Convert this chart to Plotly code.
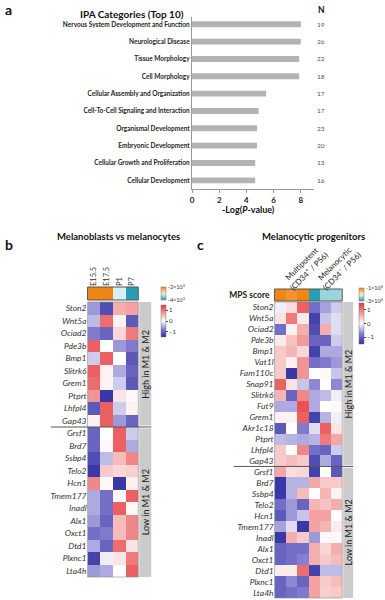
import plotly.graph_objects as go

W, H = 385, 600
def px(x): return x / W
def py(y): return 1 - y / H

FONT = "Lato"

# ---------------- Panel a data ----------------
categories = ["Nervous System Development and Function", "Neurological Disease",
              "Tissue Morphology", "Cell Morphology", "Cellular Assembly and Organization",
              "Cell-To-Cell Signaling and Interaction", "Organismal Development",
              "Embryonic Development", "Cellular Growth and Proliferation", "Cellular Development"]
neglogp = [8.0, 8.0, 7.88, 7.88, 5.45, 4.9, 4.78, 4.78, 4.65, 4.65]
n_genes = [19, 26, 22, 18, 17, 17, 23, 20, 13, 16]
a_ticks = [0, 2, 4, 6, 8]

# ---------------- Panel b data ----------------
b_cols = ["E15.5", "E17.5", "P1", "P7"]
b_mps = [-2000, -2000, -3100, -4000]
b_genes = ["Ston2", "Wnt5a", "Ociad2", "Pde3b", "Bmp1", "Slitrk6", "Grem1", "Ptprt", "Lhfpl4", "Gap43",
           "Grsf1", "Brd7", "Ssbp4", "Telo2", "Hcn1", "Tmem177", "Inadl", "Alx1", "Oxct1", "Dtd1",
           "Plxnc1", "Lta4h"]
b_values = [
    [-0.6, -1.2, 0.6, 0.7],
    [-0.4, 1.1, 0.1, -1.1],
    [-0.8, -1.0, 0.3, 1.0],
    [1.2, 0.0, -0.6, -0.8],
    [-0.3, 1.2, 0.0, -1.1],
    [1.2, 0.1, -0.5, -1.0],
    [1.1, 0.1, -0.3, -1.1],
    [0.8, -1.4, 0.2, 0.05],
    [-1.1, 1.2, -0.3, 0.1],
    [0.1, 1.2, -0.6, -1.0],
    [-1.0, 0.0, 1.2, -0.3],
    [-1.0, 0.05, 1.2, -0.5],
    [-1.2, -0.4, 0.5, 0.9],
    [-1.4, 0.4, 0.3, 0.35],
    [0.9, 0.05, -1.4, 0.1],
    [-0.5, -0.9, 0.05, 1.2],
    [-0.5, -0.9, 1.2, 0.05],
    [-0.6, -1.0, 0.5, 0.9],
    [-0.9, -0.8, 0.5, 0.9],
    [-0.5, -1.0, 1.1, 0.2],
    [-1.3, -0.1, 0.2, 1.0],
    [-0.6, -0.5, 0.0, 1.2],
]
b_high_n = 10

# ---------------- Panel c data ----------------
c_groups = ["Multipotent<br>(CD34<sup>+</sup> / P56)", "Melanocytic<br>(CD34<sup>−</sup> / P56)"]
c_samples = [0, 1, 2, 3, 4, 5]
c_mps = [-1.0e4, -1.15e4, -1.0e4, -3.0e4, -2.4e4, -2.4e4]
c_genes = ["Ston2", "Wnt5a", "Ociad2", "Pde3b", "Bmp1", "Vat1l", "Fam110c", "Snap91", "Slitrk6", "Fut9",
           "Grem1", "Akr1c18", "Ptprt", "Lhfpl4", "Gap43", "Grsf1", "Brd7", "Ssbp4", "Telo2", "Hcn1",
           "Tmem177", "Inadl", "Alx1", "Oxct1", "Dtd1", "Plxnc1", "Lta4h"]
c_values = [
    [-0.1, 0.25, 1.2, -0.9, -0.55, -0.3],
    [0.2, 1.0, 0.15, -1.3, -0.35, -0.2],
    [-0.9, 0.1, 0.6, -1.2, 0.6, -0.2],
    [0.15, 0.45, 0.75, -1.0, -1.0, -0.3],
    [0.4, 0.55, 0.3, -1.3, -0.5, -0.5],
    [0.4, 0.1, 0.8, -0.9, -0.8, -0.6],
    [0.4, -1.4, 0.8, 0.0, 0.05, -0.35],
    [1.2, 0.2, -0.35, -0.7, 0.0, -0.7],
    [0.55, -1.0, 0.9, -0.5, -0.4, -0.1],
    [-0.5, -0.5, 1.3, -0.5, 0.0, 0.05],
    [0.1, 0.1, 1.2, -1.3, -0.45, -0.1],
    [-1.1, 0.0, -0.8, -0.2, 1.2, 0.2],
    [-0.4, -0.45, -0.5, -0.45, 1.0, 0.65],
    [0.4, 0.0, 0.9, -0.9, -1.0, -0.3],
    [0.4, 0.5, 0.4, -1.2, -0.5, -1.0],
    [0.65, 0.25, 0.3, -1.3, 0.0, -1.1],
    [-1.4, -0.45, -0.45, 0.65, 0.4, 0.4],
    [-1.4, -0.45, 0.5, 0.0, 0.55, 0.1],
    [-0.9, -0.6, -1.0, 0.55, 0.45, 0.6],
    [-1.1, -0.6, -0.35, 0.7, 0.7, 0.0],
    [-0.55, -0.2, -1.4, 0.7, 0.55, 0.15],
    [-1.4, 0.6, 0.4, -0.6, 0.05, 0.05],
    [-1.0, -0.9, -0.9, 0.6, 0.3, 0.6],
    [-1.0, -0.9, -0.75, 0.6, 0.4, 0.5],
    [0.15, 0.15, 1.1, -1.3, -0.4, -0.4],
    [-1.0, -0.7, -1.0, 0.7, 0.4, 0.5],
    [-1.0, -0.9, -0.8, 0.7, 0.35, 0.4],
]
c_high_n = 15

heat_scale = [[0, "#2d2d9f"], [0.25, "#8580d0"], [0.5, "#ffffff"], [0.75, "#f29a9a"], [1, "#e6393b"]]
mps_scale = [[0, "#2a9db2"], [0.45, "#d3f0f5"], [0.55, "#fbe0bd"], [1, "#ef8515"]]

fig = go.Figure()

# ---------- Panel a ----------
fig.add_trace(go.Bar(x=neglogp, y=categories, orientation="h", marker_color="#b3b3b3",
                     marker_line_width=0, width=0.34, xaxis="x", yaxis="y", showlegend=False))

# ---------- Panel b ----------
fig.add_trace(go.Heatmap(z=[b_mps], x=b_cols, y=[0], xaxis="x2", yaxis="y2",
                         colorscale=mps_scale, zmin=-4000, zmax=-2000,
                         colorbar=dict(x=px(160), xanchor="left", y=py(287), yanchor="top",
                                       len=13, lenmode="pixels", thickness=5, thicknessmode="pixels",
                                       xpad=0, ypad=0, outlinewidth=0.5, outlinecolor="#777",
                                       tickvals=[-2000, -4000],
                                       ticktext=["-2×10<sup>3</sup>", "-4×10<sup>3</sup>"],
                                       ticks="", tickfont=dict(size=5.5, color="#333", family=FONT))))
fig.add_trace(go.Heatmap(z=b_values, x=b_cols, y=list(range(len(b_genes))), xaxis="x2", yaxis="y3",
                         colorscale=heat_scale, zmin=-1.5, zmax=1.5,
                         colorbar=dict(x=px(160), xanchor="left", y=py(305), yanchor="top",
                                       len=32, lenmode="pixels", thickness=5, thicknessmode="pixels",
                                       xpad=0, ypad=0, outlinewidth=0.5, outlinecolor="#777",
                                       tickvals=[1, 0, -1], ticks="outside", ticklen=2,
                                       tickfont=dict(size=6, color="#333", family=FONT))))

# ---------- Panel c ----------
fig.add_trace(go.Heatmap(z=[c_mps], x=c_samples, y=[0], xaxis="x3", yaxis="y4",
                         colorscale=mps_scale, zmin=-3.0e4, zmax=-1.0e4,
                         colorbar=dict(x=px(359), xanchor="left", y=py(288), yanchor="top",
                                       len=13, lenmode="pixels", thickness=5, thicknessmode="pixels",
                                       xpad=0, ypad=0, outlinewidth=0.5, outlinecolor="#777",
                                       tickvals=[-1.0e4, -3.0e4],
                                       ticktext=["-1×10<sup>4</sup>", "-3×10<sup>4</sup>"],
                                       ticks="", tickfont=dict(size=5.5, color="#333", family=FONT))))
fig.add_trace(go.Heatmap(z=c_values, x=c_samples, y=list(range(len(c_genes))), xaxis="x3", yaxis="y5",
                         colorscale=heat_scale, zmin=-1.5, zmax=1.5,
                         colorbar=dict(x=px(359), xanchor="left", y=py(303), yanchor="top",
                                       len=41, lenmode="pixels", thickness=5, thicknessmode="pixels",
                                       xpad=0, ypad=0, outlinewidth=0.5, outlinecolor="#777",
                                       tickvals=[1, 0, -1], ticks="outside", ticklen=2,
                                       tickfont=dict(size=6, color="#333", family=FONT))))

gene_font = dict(size=8.5, color="#333", family=FONT)

fig.update_layout(
    width=W, height=H, margin=dict(l=0, r=0, t=0, b=0), autosize=False,
    paper_bgcolor="white", plot_bgcolor="white",
    font=dict(family=FONT, color="#222"),
    xaxis=dict(domain=[px(191), px(314)], anchor="y", range=[0, 9], tickvals=a_ticks,
               ticktext=[f"<b>{t}</b>" for t in a_ticks],
               showline=True, linecolor="#999", linewidth=1, ticks="outside", ticklen=3,
               tickcolor="#999", showgrid=False, zeroline=False,
               tickfont=dict(size=8, color="#222", family=FONT)),
    yaxis=dict(domain=[py(189), py(17)], anchor="x", type="category", categoryorder="array",
               categoryarray=categories, range=[9.5, -0.42], showline=True, linecolor="#999",
               linewidth=1, ticks="", showgrid=False, zeroline=False,
               tickvals=categories, ticktext=[f"<b>{c}</b>" for c in categories],
               tickfont=dict(size=6.5, color="#262626", family=FONT)),
    xaxis2=dict(domain=[px(86), px(137)], anchor="y2", side="top", tickangle=-90, ticks="",
                showgrid=False, zeroline=False, showline=False,
                tickfont=dict(size=7.5, color="#333", family=FONT)),
    yaxis2=dict(domain=[py(300), py(287)], anchor="x2", range=[-0.5, 0.5], showticklabels=False,
                ticks="", showgrid=False, zeroline=False),
    yaxis3=dict(domain=[py(577), py(302)], anchor="x2", range=[len(b_genes) - 0.5, -0.5],
                tickvals=list(range(len(b_genes))), ticktext=[f"<i>{g}</i>" for g in b_genes],
                ticks="", showgrid=False, zeroline=False, tickfont=gene_font),
    xaxis3=dict(domain=[px(274), px(342)], anchor="y4", showticklabels=False, ticks="",
                showgrid=False, zeroline=False),
    yaxis4=dict(domain=[py(301), py(289)], anchor="x3", range=[-0.5, 0.5], tickvals=[0],
                ticktext=["<b>MPS score</b>"], ticks="", showgrid=False, zeroline=False,
                tickfont=dict(size=8.5, color="#222", family=FONT), ticklabelstandoff=4),
    yaxis5=dict(domain=[py(598), py(302)], anchor="x3", range=[len(c_genes) - 0.5, -0.5],
                tickvals=list(range(len(c_genes))), ticktext=[f"<i>{g}</i>" for g in c_genes],
                ticks="", showgrid=False, zeroline=False, tickfont=gene_font),
)

shapes = []
# outlines of MPS bars and heatmaps
for xr, yr in [("x2", "y2"), ("x3", "y4")]:
    shapes.append(dict(type="rect", xref=f"{xr} domain", yref=f"{yr} domain", x0=0, x1=1, y0=0, y1=1,
                       line=dict(color="#555", width=1)))
for xr, yr in [("x2", "y3"), ("x3", "y5")]:
    shapes.append(dict(type="rect", xref=f"{xr} domain", yref=f"{yr} domain", x0=0, x1=1, y0=0, y1=1,
                       line=dict(color="#888", width=0.6)))

# gray side bands + separators
def side_bands(yref, nhigh, ntot, xl, xr, sep_x0):
    return [
        dict(type="rect", xref="paper", yref=yref, x0=px(xl), x1=px(xr), y0=-0.5, y1=nhigh - 0.5 - 0.12,
             fillcolor="#cbcbcb", line_width=0, layer="below"),
        dict(type="rect", xref="paper", yref=yref, x0=px(xl), x1=px(xr), y0=nhigh - 0.5 + 0.12,
             y1=ntot - 0.5, fillcolor="#cbcbcb", line_width=0, layer="below"),
        dict(type="line", xref="paper", yref=yref, x0=px(sep_x0), x1=px(xr), y0=nhigh - 0.5,
             y1=nhigh - 0.5, line=dict(color="#555", width=1)),
    ]

shapes += side_bands("y3", b_high_n, len(b_genes), 138, 150, 49)
shapes += side_bands("y5", c_high_n, len(c_genes), 343, 353, 233)
fig.update_layout(shapes=shapes)

ann = []
def A(text, x, y, size, bold=False, xref="paper", yref="paper", **kw):
    t = f"<b>{text}</b>" if bold else text
    d = dict(text=t, x=x, y=y, xref=xref, yref=yref, showarrow=False,
             xanchor="center", yanchor="middle",
             font=dict(size=size, family=FONT, color=kw.pop("color", "#111")))
    d.update(kw)
    ann.append(d)

# panel letters
A("a", px(7), py(9), 14, True)
A("b", px(7), py(244), 14, True)
A("c", px(200), py(244), 14, True)
# titles
A("IPA Categories (Top 10)", px(131), py(14), 10, True)
A("N", px(321), py(10), 8.5, True)
A("-Log(<i>P</i>-value)", px(248), py(209), 9, True)
A("Melanoblasts vs melanocytes", px(117), py(236), 9.5, True)
A("Melanocytic progenitors", px(313), py(236), 9.5, True)
# N column
for cat, n in zip(categories, n_genes):
    A(str(n), px(321), cat, 6.5, yref="y", color="#555")
# side band labels
for yref, nhigh, ntot, xc in [("y3", b_high_n, len(b_genes), 144), ("y5", c_high_n, len(c_genes), 348)]:
    A("High in M1 & M2", px(xc), (nhigh - 1) / 2, 9, yref=yref, textangle=-90, color="#222")
    A("Low in M1 & M2", px(xc), (nhigh + ntot - 1) / 2, 9, yref=yref, textangle=-90, color="#222")
# group labels for panel c
A(c_groups[0], px(305), py(267), 8, textangle=-45, color="#222")
A(c_groups[1], px(338), py(267), 8, textangle=-45, color="#222")

fig.update_layout(annotations=ann)
fig.write_html("out.html", config={"displayModeBar": False},
               post_script="document.body.style.margin='0';")
